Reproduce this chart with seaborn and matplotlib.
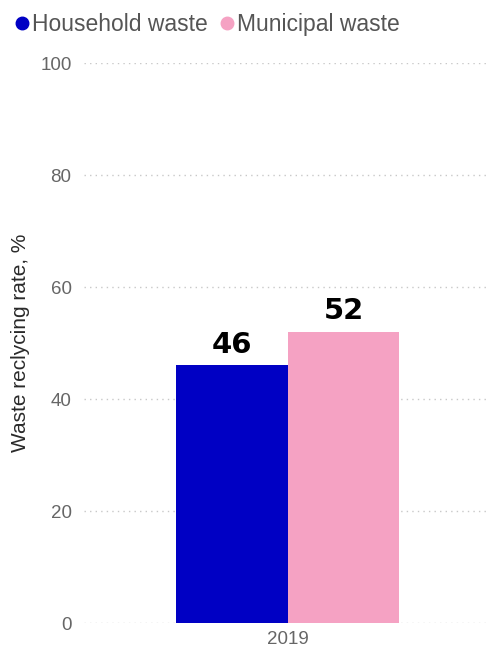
import pandas as pd
import seaborn as sns
import matplotlib.pyplot as plt
from matplotlib.lines import Line2D

# ---- data ----
years = ['2019', '2019']
waste_types = ['Household waste', 'Municipal waste']
rates = [46, 52]
colors = ['#0000c4', '#f5a2c3']
y_ticks = [0, 20, 40, 60, 80, 100]

df = pd.DataFrame({'year': years, 'type': waste_types, 'rate': rates})

sns.set_style("white")
plt.rcParams['font.family'] = ['Liberation Sans', 'DejaVu Sans']

fig = plt.figure(figsize=(4.86, 6.51), dpi=100)
ax = fig.add_axes([0.173, 0.043, 0.827, 0.86])

sns.barplot(data=df, x='year', y='rate', hue='type', hue_order=waste_types,
            palette=colors, width=0.8, saturation=1, linewidth=0, ax=ax, legend=False)

ax.set_ylim(0, 100)
ax.set_xlim(-0.73, 0.71)
ax.set_yticks(y_ticks)
ax.yaxis.grid(True, linestyle=(0, (1, 3)), color='#c8c8c8', linewidth=1)
ax.set_axisbelow(True)
for s in ax.spines.values():
    s.set_visible(False)
ax.tick_params(axis='both', length=0, labelsize=13.5, labelcolor='#666666')
ax.tick_params(axis='y', pad=9)
ax.tick_params(axis='x', pad=6)
ax.set_xlabel('')
ax.set_ylabel('')
fig.text(0.043, 0.474, 'Waste reclycing rate, %', rotation=90, ha='center', va='center',
         fontsize=15, color='#2a2a2a')

# value labels on top of each bar
for cont in ax.containers:
    ax.bar_label(cont, fmt='%d', padding=5, fontsize=21, fontweight='bold',
                 color='black', family='DejaVu Sans')

handles = [Line2D([], [], marker='o', linestyle='', markersize=9,
                  markerfacecolor=c, markeredgecolor=c) for c in colors]
fig.legend(handles, waste_types, loc='upper left', bbox_to_anchor=(-0.005, 1.005),
           ncol=2, frameon=False, fontsize=16.5, handlelength=0.7, handletextpad=0.1,
           columnspacing=0.5, labelcolor='#555555', borderaxespad=0.3)

plt.savefig('out.png', dpi=100)
plt.close()
